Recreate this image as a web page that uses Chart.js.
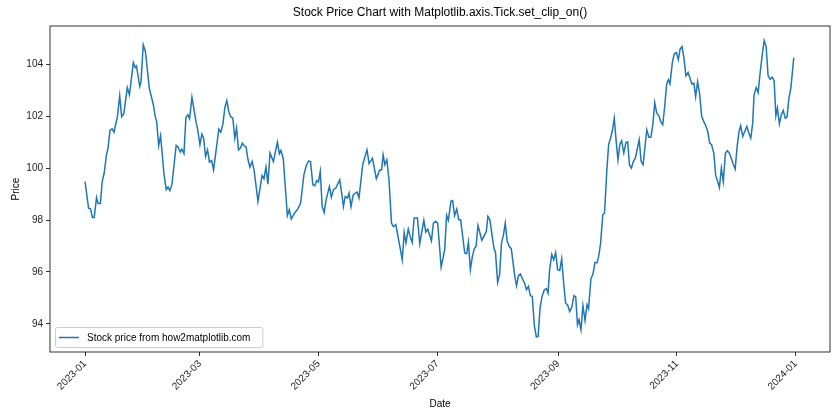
<!DOCTYPE html>
<html>
<head>
<meta charset="utf-8">
<script src="https://cdn.jsdelivr.net/npm/chart.js@4.4.0/dist/chart.umd.min.js"></script>
<style>
	body { margin: 0; background: #fff; }
	#wrap { width: 840px; height: 420px; }
</style>
</head>
<body>
<div id="wrap"><canvas id="myCanvas"></canvas></div>
<script>
// day of year (0 = 2023-01-01) and price
let days = [
	0, 1.8, 2.8, 3.8, 4.7, 5.9, 6.7, 7.9, 8.8, 9.8, 11.0, 11.8, 12.8, 13.9, 14.9, 15.6, 16.6, 17.8, 18.8, 19.9,
	21.7, 22.8, 24.8, 25.8, 26.4, 28.1, 28.7, 29.9, 31.0, 33.0, 35.1, 36.1, 36.8, 37.8, 38.8, 40.5, 41.7, 42.6, 43.6, 44.6,
	46.8, 47.8, 48.9, 49.7, 50.8, 51.8, 52.8, 53.7, 54.9, 57.1, 57.8, 59.0, 60.0, 60.9, 61.9, 62.9, 63.9, 65.0, 66.0,
	68.7, 69.7, 70.8, 71.8, 72.8, 73.8, 74.8, 75.9, 76.9, 77.8, 78.8, 79.8, 80.8, 81.7, 82.7, 83.7, 84.7, 85.8, 86.8,
	88.8, 90.9, 91.9, 92.9, 93.9, 95.0, 96.7, 98.8, 99.8, 100.6, 101.8, 103.9, 104.9, 105.9, 108.0, 109.3, 110.7,
	112.4, 113.6, 114.8, 115.8, 117.0, 118.0, 119.0, 119.9, 120.8, 121.8, 122.8, 123.8, 125.5, 126.5, 127.6, 128.8,
	130.8, 131.8, 132.7, 133.6, 134.8, 135.6, 136.6, 137.7, 139.7, 140.7, 142.6, 144.8, 145.9, 147.6, 149.6,
	151.3, 152.3, 153.1, 154.0, 155.0, 156.1, 157.4, 158.4, 159.6, 161.7, 162.9, 163.9, 164.8, 166.0, 167.0, 168.0,
	169.0, 170.7, 171.9, 174.0, 175.0, 176.0, 177.9, 178.9, 180.1, 181.1, 182.9, 184.7, 185.7, 186.6, 187.9, 188.8,
	189.8, 190.9, 191.9, 192.9, 195.0, 196.0, 196.9, 197.9, 198.9, 199.9, 200.8, 201.8, 203.8, 205.2, 206.1, 206.9,
	207.9, 210.0, 210.8, 211.9, 212.9, 213.9, 214.9, 215.8, 216.8, 217.9, 218.9, 220.8, 221.6, 222.6, 223.6, 224.7,
	225.7, 226.7, 227.7, 228.7, 229.7, 230.8, 231.8, 232.7, 233.7, 234.7, 235.9, 236.9, 237.8, 238.6, 239.7, 240.7,
	241.7, 242.7, 243.8, 244.8, 245.8, 246.8, 247.9, 248.9, 249.9, 251.1, 252.0, 252.9, 253.7, 254.7, 255.7, 256.8,
	257.8, 258.6, 259.8, 260.8, 261.9, 262.9, 263.8, 264.8, 265.9, 266.8, 268.0, 268.9, 269.9, 270.9, 271.8, 272.8,
	273.7, 274.7, 275.6, 276.7, 277.8, 278.7, 279.6, 280.6, 281.6, 282.6, 284.6, 285.6, 286.6, 288.5, 289.6, 290.6,
	291.6, 292.6, 293.6, 294.7, 295.7, 296.7, 297.7, 298.7, 299.6, 300.4, 301.6, 302.6, 303.7, 304.7, 305.6, 306.6,
	307.6, 308.6, 309.7, 310.7, 311.7, 312.7, 313.6, 314.6, 315.6, 316.7, 317.8, 318.8, 319.8, 320.8, 321.8, 322.9,
	323.9, 324.9, 325.8, 326.8, 327.8, 328.9, 329.9, 330.9, 331.9, 332.9, 333.9, 334.9, 335.9, 336.7, 337.8, 338.8,
	339.9, 340.9, 341.9, 342.9, 343.6, 344.7, 345.7, 346.7, 347.8, 348.8, 349.8, 350.8, 351.9, 352.9, 353.9, 354.8,
	355.6, 356.6, 357.6, 358.6, 359.6, 360.5, 361.5, 362.5, 364,
];
let prices = [
	99.48, 98.46, 98.43, 98.10, 98.10, 98.87, 98.64, 98.64, 99.48, 99.80, 100.51, 100.77, 101.45, 101.51, 101.38, 101.64, 101.96, 102.78, 101.98, 102.09,
	103.10, 102.82, 104.06, 103.87, 103.93, 103.14, 103.29, 104.75, 104.49, 103.08, 102.43, 101.96, 101.79, 100.86, 101.25, 99.80, 99.17, 99.27, 99.13, 99.36,
	100.87, 100.81, 100.62, 100.73, 100.56, 101.95, 102.05, 101.90, 102.73, 101.73, 101.51, 100.90, 101.31, 101.15, 100.45, 100.70, 100.23, 100.29, 99.93,
	101.50, 101.38, 101.69, 102.33, 102.60, 102.18, 101.98, 101.92, 101.15, 101.54, 100.70, 100.77, 100.96, 100.86, 100.81, 100.32, 100.04, 100.25, 99.93,
	98.72, 99.72, 99.59, 100.04, 99.38, 100.58, 100.25, 101.00, 100.55, 100.68, 100.36, 98.17, 98.40, 98.04, 98.31, 98.43, 98.65,
	99.74, 100.09, 100.27, 100.25, 99.36, 99.32, 99.52, 99.46, 99.87, 98.52, 98.29, 98.78, 99.29, 98.88, 99.17, 99.23,
	99.55, 99.04, 98.52, 98.91, 98.85, 99.04, 98.52, 98.97, 99.08, 98.85, 100.13, 100.70, 100.17, 100.38, 99.59,
	99.93, 99.93, 100.51, 100.13, 100.32, 99.55, 97.88, 97.75, 97.82, 96.98, 96.47, 97.52, 97.12, 97.65, 97.37, 97.14,
	98.08, 98.08, 97.09, 97.99, 97.54, 97.65, 97.20, 97.88, 97.95, 97.88, 96.19, 96.86, 98.18, 97.99, 98.72, 98.75,
	98.17, 98.42, 98.01, 98.01, 96.73, 96.70, 97.15, 96.09, 96.58, 96.90, 96.98, 97.79, 97.22, 97.43, 97.56, 98.14,
	98.01, 96.92, 96.75, 95.60, 95.90, 97.12, 97.43, 97.88, 97.18, 96.98, 96.90, 95.79, 95.47, 95.86, 95.92, 95.73,
	95.58, 95.32, 95.45, 95.09, 95.06, 93.91, 93.50, 93.52, 94.62, 95.06, 95.32, 95.36, 95.19, 96.09, 96.67, 96.47,
	96.75, 96.09, 96.06, 96.51, 95.58, 94.81, 94.72, 94.48, 94.62, 95.09, 95.04, 93.97, 94.17, 93.78, 94.70, 94.13,
	94.74, 94.59, 95.74, 95.90, 96.37, 96.35, 96.60, 97.12, 98.20, 98.27, 99.93, 100.90, 101.15, 101.47, 101.92, 101.02,
	100.32, 100.93, 101.05, 100.58, 100.98, 101.01, 100.13, 100.00, 100.25, 100.38, 101.09, 100.25, 100.13, 101.47, 101.19, 101.19,
	101.67, 102.52, 102.12, 102.01, 101.79, 101.67, 102.37, 103.23, 103.40, 103.24, 104.04, 104.40, 104.45, 104.17, 104.58, 104.68,
	104.23, 103.55, 103.68, 103.46, 103.23, 103.27, 102.75, 103.33, 102.88, 101.98, 101.79, 101.63, 101.41, 100.96, 100.90, 100.58,
	99.72, 99.48, 99.25, 100.00, 99.48, 100.58, 100.67, 100.58, 100.38, 100.15, 99.96, 100.83, 101.41, 101.63, 101.22, 101.41,
	101.60, 101.35, 101.15, 101.73, 102.82, 103.10, 102.91, 103.65, 104.36, 104.91, 104.68, 103.55, 103.42, 103.50, 103.37, 102.01,
	102.31, 101.70, 102.05, 102.22, 101.92, 101.96, 102.69, 103.08, 104.25,
];
let tickDays = [0, 59, 120, 181, 243, 304, 365];
let tickLabels = ["2023-01", "2023-03", "2023-05", "2023-07", "2023-09", "2023-11", "2024-01"];
let yTicks = [94, 96, 98, 100, 102, 104];

const fontFam = "'Liberation Sans', Arial, sans-serif";
Chart.defaults.font.family = fontFam;
Chart.defaults.font.size = 10;
Chart.defaults.color = "#000";

// matplotlib-ish extras: centred title, full frame, legend inside the axes
const mplBits = {
	id: "mplBits",
	afterDraw(chart) {
		const c = chart.ctx;
		const a = chart.chartArea;
		c.save();
		c.strokeStyle = "#000";
		c.lineWidth = 0.8;
		c.strokeRect(a.left, a.top, a.right - a.left, a.bottom - a.top);

		c.fillStyle = "#000";
		c.font = "12px " + fontFam;
		c.textAlign = "center";
		c.textBaseline = "middle";
		c.fillText("Stock Price Chart with Matplotlib.axis.Tick.set_clip_on()", (a.left + a.right) / 2, 13);

		const label = chart.data.datasets[0].label;
		c.font = "10px " + fontFam;
		const tw = c.measureText(label).width;
		const bx = a.left + 5, by = a.bottom - 25, bw = tw + 44, bh = 20;
		c.fillStyle = "rgba(255,255,255,0.8)";
		c.strokeStyle = "#cccccc";
		c.lineWidth = 1;
		c.beginPath();
		c.roundRect(bx + 0.5, by + 0.5, bw, bh, 2);
		c.fill();
		c.stroke();
		c.strokeStyle = "#1f77b4";
		c.lineWidth = 1.5;
		c.beginPath();
		c.moveTo(bx + 4, by + 10.5);
		c.lineTo(bx + 24, by + 10.5);
		c.stroke();
		c.fillStyle = "#000";
		c.textAlign = "left";
		c.fillText(label, bx + 32, by + 11);
		c.restore();
	},
};

const ctx = document.getElementById("myCanvas").getContext("2d");
const myChart = new Chart(ctx, {
	type: "line",
	data: {
		datasets: [
			{
				label: "Stock price from how2matplotlib.com",
				data: days.map((d, i) => ({ x: d, y: prices[i] })),
				borderColor: "#1f77b4",
				backgroundColor: "#1f77b4",
				borderWidth: 1.5,
				pointRadius: 0,
				tension: 0,
			},
		],
	},
	options: {
		responsive: true,
		maintainAspectRatio: false,
		animation: false,
		layout: { padding: { top: 26, right: 10, left: 0, bottom: 0 } },
		plugins: {
			legend: { display: false },
			tooltip: { enabled: false },
		},
		scales: {
			x: {
				type: "linear",
				min: -18,
				max: 382.6,
				afterBuildTicks: (scale) => {
					scale.ticks = tickDays.map((v) => ({ value: v }));
				},
				afterFit: (scale) => {
					scale.height = 68;
				},
				grid: { drawOnChartArea: false, drawTicks: true, tickLength: 4, color: "#000", lineWidth: 0.8 },
				border: { display: false },
				ticks: {
					autoSkip: false,
					minRotation: 45,
					maxRotation: 45,
					padding: 2,
					color: "#222",
					callback: function (value, index) {
						return tickLabels[index];
					},
				},
				title: { display: true, text: "Date", padding: { top: 0, bottom: 10 } },
			},
			y: {
				min: 92.92,
				max: 105.47,
				afterBuildTicks: (scale) => {
					scale.ticks = yTicks.map((v) => ({ value: v }));
				},
				afterFit: (scale) => {
					scale.width = 50;
				},
				grid: { drawOnChartArea: false, drawTicks: true, tickLength: 4, color: "#000", lineWidth: 0.8 },
				border: { display: false },
				ticks: { padding: 3, color: "#222" },
				title: { display: true, text: "Price", padding: { top: 10, bottom: 0 } },
			},
		},
	},
	plugins: [mplBits],
});
</script>
</body>
</html>
